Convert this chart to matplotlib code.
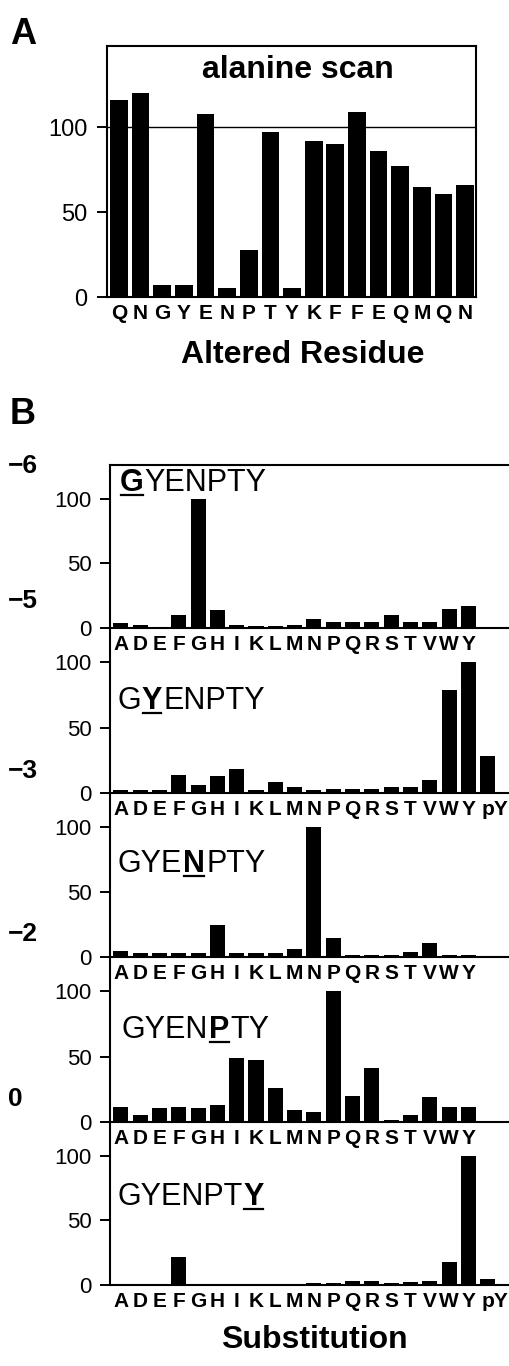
import matplotlib
matplotlib.use('Agg')
import matplotlib.pyplot as plt
from matplotlib.lines import Line2D
from matplotlib.transforms import ScaledTranslation

plt.rcParams['font.family'] = ['Liberation Sans', 'DejaVu Sans']

# ---------------- data ----------------
alanine_residues = list("QNGYENPTYKFFEQMQN")
alanine_values = [116, 120, 7, 7, 108, 5.5, 28, 97, 5.5, 92, 90, 109, 86, 77, 65, 61, 66]

subs19 = list("ADEFGHIKLMNPQRSTVWY")
subs20 = subs19 + ["pY"]

pos_m6_values = [3.9, 2.6, 0.6, 9.8, 100, 14.2, 2.6, 1.5, 1.5, 2, 7.2, 4.6, 4.6, 4.6, 10, 4.6, 4.6, 14.4, 17]
pos_m5_values = [2, 2, 2, 13.8, 5.9, 12.8, 18, 2.3, 8.2, 4.3, 2.5, 3, 3, 3, 4.6, 4.6, 10, 79, 100, 28]
pos_m3_values = [4.7, 3.1, 3.1, 3.1, 3.1, 24.6, 3.1, 3.1, 3.1, 6, 100, 14.8, 1.3, 1.3, 1.3, 3.6, 10.6, 1.3, 1.3]
pos_m2_values = [11.8, 5, 10.6, 11.8, 10.6, 13.1, 49, 47.5, 26, 8.8, 7.6, 100, 20, 41, 1.8, 5.3, 19, 11.8, 11.8]
pos_0_values = [0, 0, 0, 21.3, 0, 0, 0, 0, 0, 0, 1.8, 1.8, 3.3, 3.3, 1.8, 2, 3.3, 17.7, 100, 4.9]

sequence = "GYENPTY"
panel_labels = ["\u22126", "\u22125", "\u22123", "\u22122", "0"]
panel_highlight = [0, 1, 3, 4, 6]
panel_values = [pos_m6_values, pos_m5_values, pos_m3_values, pos_m2_values, pos_0_values]
panel_cats = [subs19, subs20, subs19, subs19, subs20]

# ---------------- layout ----------------
W, H = 510, 1366
fig = plt.figure(figsize=(W / 100, H / 100), dpi=100)


def rect(l, t, r, b):
    return [l / W, 1 - b / H, (r - l) / W, (b - t) / H]


# ---------------- panel A ----------------
axA = fig.add_axes(rect(107, 46, 476, 297))
xa = list(range(len(alanine_residues)))
axA.bar(xa, alanine_values, width=0.82, color='black')
axA.axhline(100, color='black', lw=1.0)
axA.set_xlim(-0.55, 16.5)
axA.set_ylim(0, 148)
axA.set_yticks([0, 50, 100])
axA.set_xticks(xa)
axA.set_xticklabels(alanine_residues, fontweight='bold', fontsize=15)
axA.tick_params(axis='x', length=0, pad=5)
axA.tick_params(axis='y', length=7, width=1.4, direction='out', pad=7, labelsize=17)
for s in axA.spines.values():
    s.set_linewidth(1.5)
axA.text(0.518, 0.904, 'alanine scan', transform=axA.transAxes, ha='center',
         va='center', fontsize=23, fontweight='bold')
fig.text(303 / W, 1 - 355 / H, 'Altered Residue', ha='center', va='center',
         fontsize=23, fontweight='bold')
fig.text(10 / W, 1 - 35 / H, 'A', ha='left', va='center', fontsize=26, fontweight='bold')
fig.text(10 / W, 1 - 414 / H, 'B', ha='left', va='center', fontsize=26, fontweight='bold')

# ---------------- panel B ----------------
tops = [465, 628, 793, 957, 1122]
bottoms = [628, 793, 957, 1122, 1285]
text_x = [0.025, 0.018, 0.02, 0.03, 0.018]
text_y = [106, 64, 65, 64, 62]
row_label_y = [466, 601, 771, 934, 1099]

renderer = fig.canvas.get_renderer()


def seq_label(ax, x, y, seq, idx, fs=22):
    tr = ax.get_yaxis_transform()
    parts = [(seq[:idx], 'normal'), (seq[idx], 'bold'), (seq[idx + 1:], 'normal')]
    cur_x = x
    bold_bb = None
    for txt, wt in parts:
        if not txt:
            continue
        t = ax.text(cur_x, y, txt, transform=tr, ha='left', va='baseline',
                    fontsize=fs, fontweight=wt)
        bb = t.get_window_extent(renderer)
        if wt == 'bold':
            bold_bb = bb
        cur_x = ax.transAxes.inverted().transform((bb.x1 + 1, 0))[0]
    base = tr.transform((0, y))[1]
    inv = fig.transFigure.inverted()
    p0 = inv.transform((bold_bb.x0 + 1, base - 4))
    p1 = inv.transform((bold_bb.x1 - 1, base - 4))
    fig.add_artist(Line2D([p0[0], p1[0]], [p0[1], p1[1]], color='black', lw=1.6,
                          transform=fig.transFigure))


for i in range(5):
    ax = fig.add_axes(rect(110, tops[i], 509, bottoms[i]))
    ax.patch.set_alpha(0)
    cats = panel_cats[i]
    xs = list(range(len(cats)))
    ax.bar(xs, panel_values[i], width=0.78, color='black')
    ax.set_xlim(-0.56, 20.1)
    ax.set_ylim(0, 126)
    ax.set_yticks([0, 50, 100])
    ax.set_xticks(xs)
    ax.set_xticklabels(cats, fontweight='bold', fontsize=15)
    ax.tick_params(axis='x', length=0, pad=5)
    ax.tick_params(axis='y', length=7, width=1.4, direction='out', pad=6, labelsize=16)
    for lab in ax.get_xticklabels():
        if lab.get_text() == 'pY':
            lab.set_transform(lab.get_transform() +
                              ScaledTranslation(5 / 72, 0, fig.dpi_scale_trans))
    ax.spines['right'].set_visible(False)
    if i > 0:
        ax.spines['top'].set_visible(False)
    for s in ax.spines.values():
        s.set_linewidth(1.5)
    seq_label(ax, text_x[i], text_y[i], sequence, panel_highlight[i])
    fig.text(8 / W, 1 - row_label_y[i] / H, panel_labels[i], ha='left', va='center',
             fontsize=19, fontweight='bold')

fig.text(314 / W, 1 - 1340 / H, 'Substitution', ha='center', va='center',
         fontsize=23, fontweight='bold')

fig.savefig('out.png', dpi=100)
